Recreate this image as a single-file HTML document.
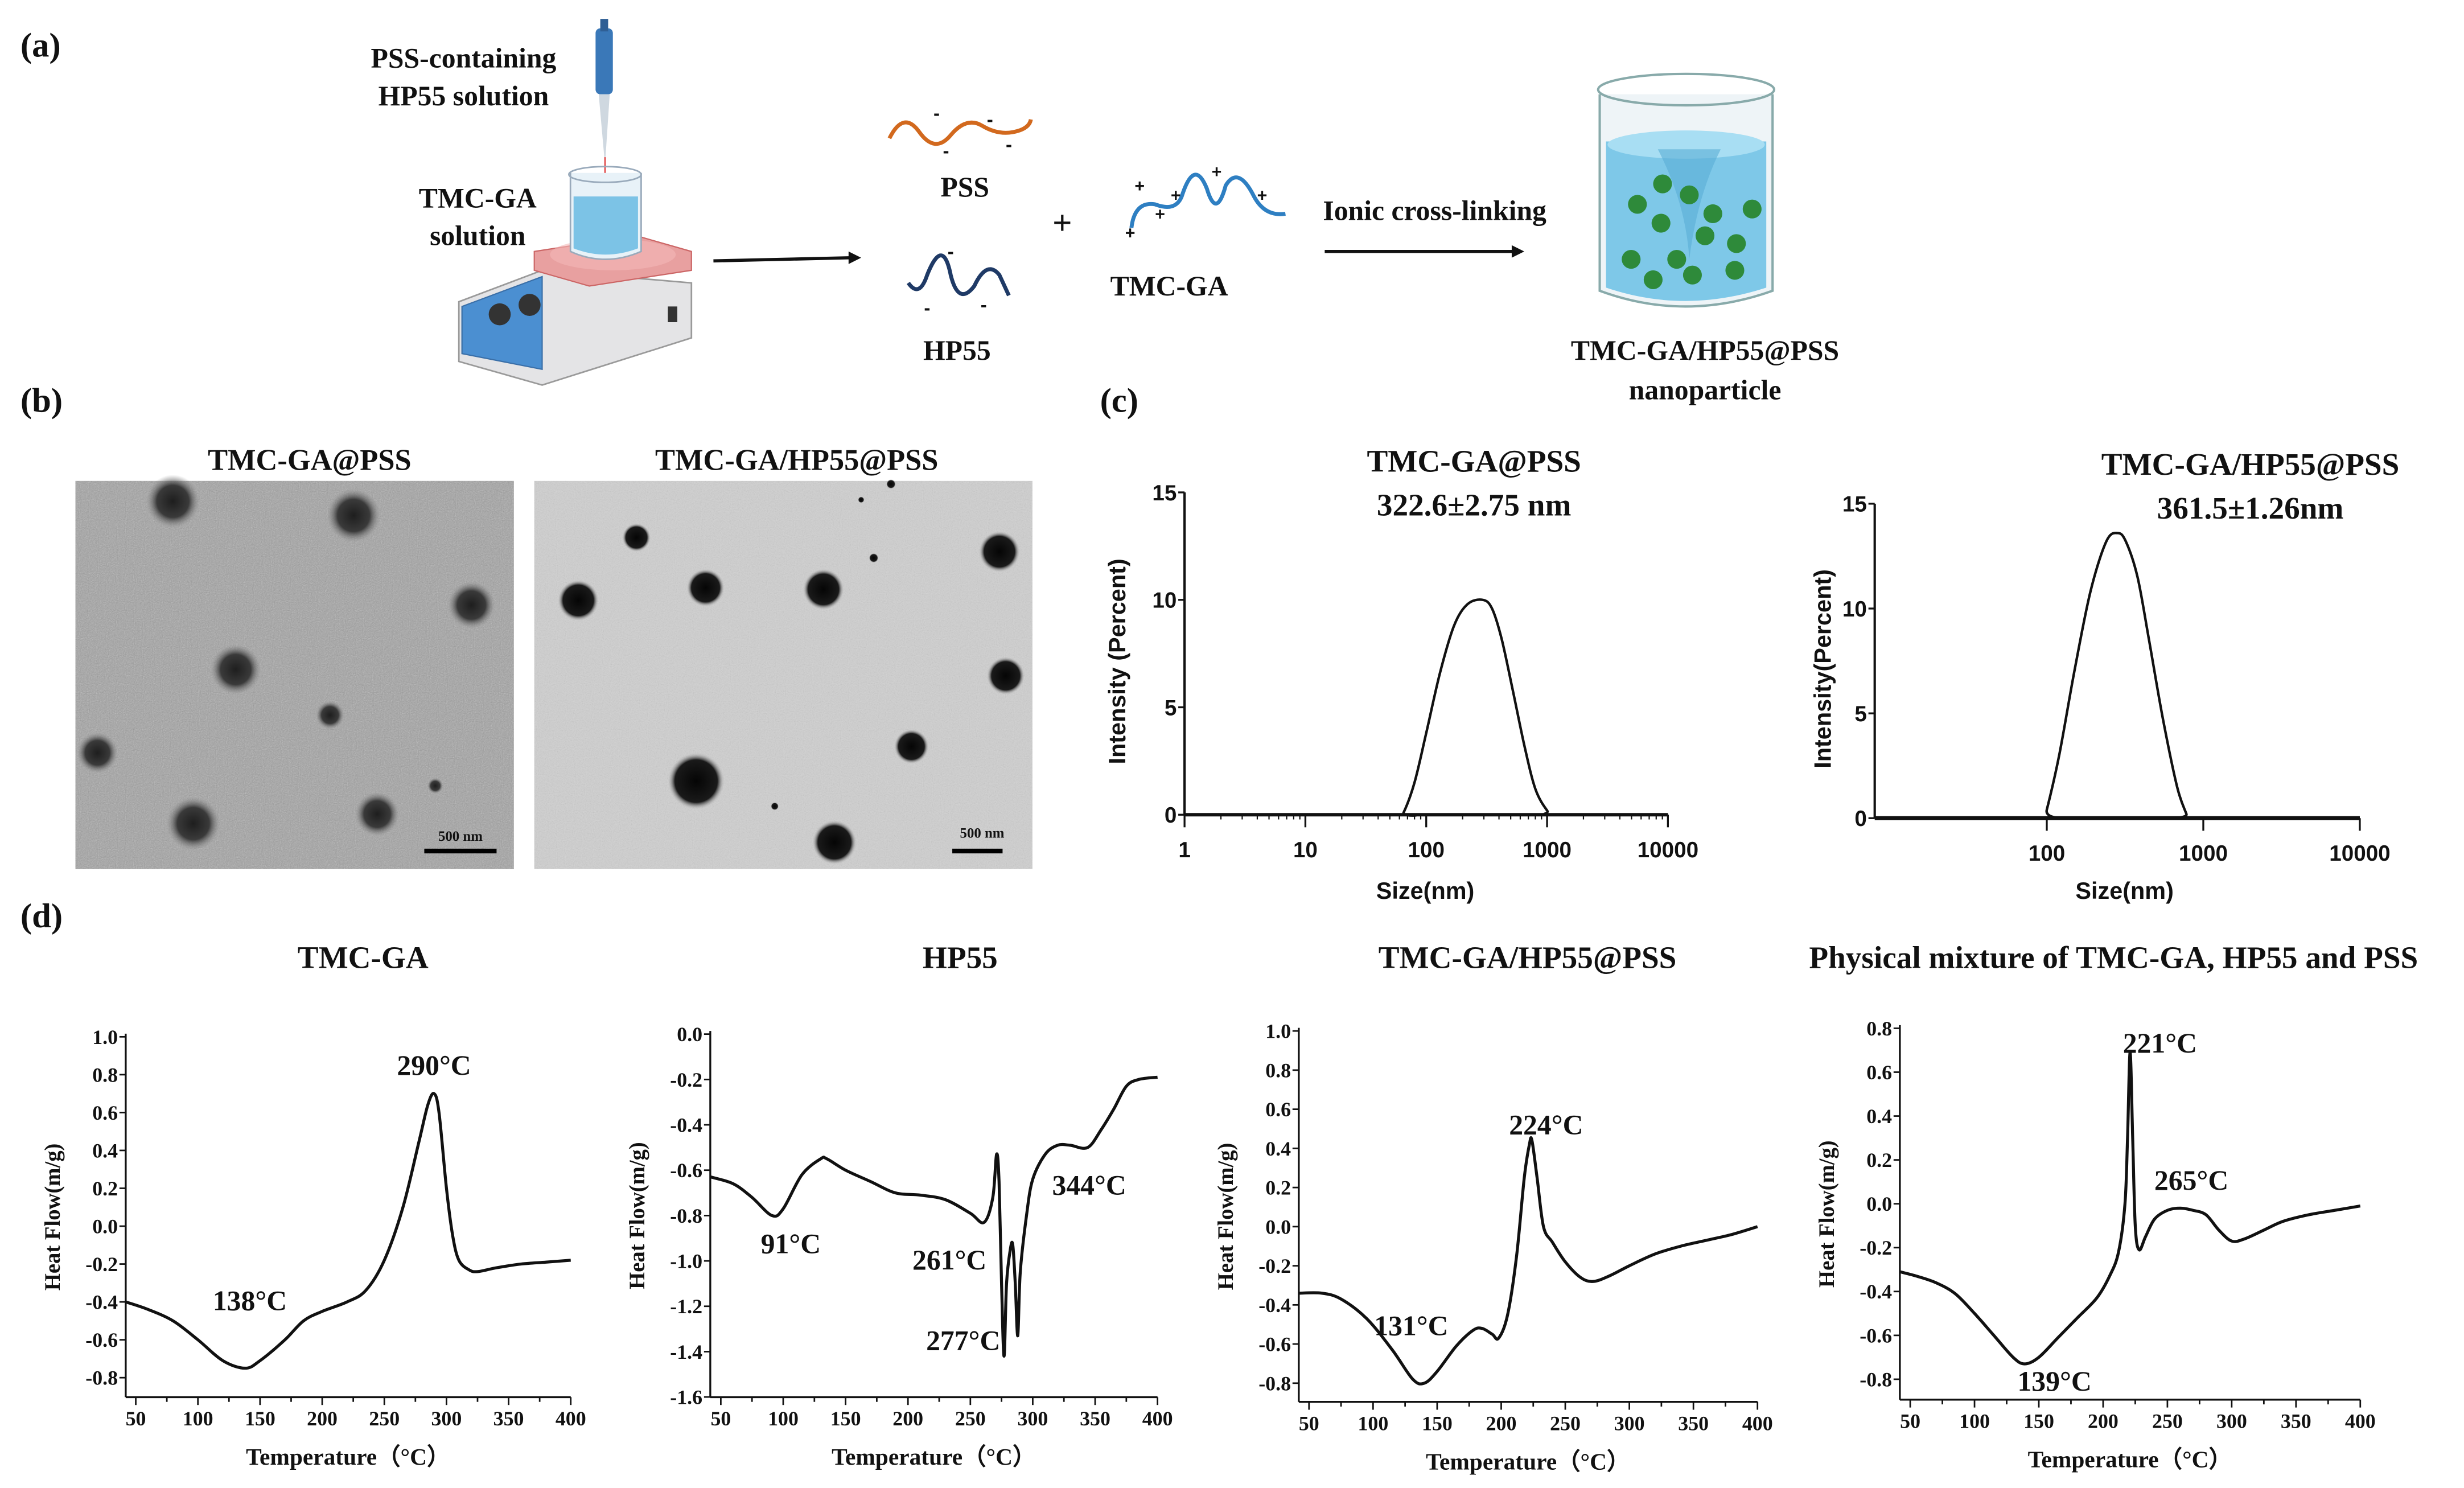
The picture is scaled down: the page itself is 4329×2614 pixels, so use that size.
<!DOCTYPE html>
<html><head><meta charset="utf-8"><title>Figure</title>
<style>
html,body{margin:0;padding:0;background:#fff;}
svg{display:block;}
.t{font-family:"Liberation Serif",serif;font-weight:bold;fill:#111;}
.s{font-family:"Liberation Sans",sans-serif;font-weight:bold;fill:#111;}
</style></head>
<body>
<svg id="fig" xmlns="http://www.w3.org/2000/svg" width="4329" height="2614" viewBox="0 0 1568 946.8">
<defs>
<filter id="grain" x="0" y="0" width="100%" height="100%">
<feTurbulence type="fractalNoise" baseFrequency="1.4" numOctaves="2" seed="3"/>
<feColorMatrix type="saturate" values="0"/>
<feComponentTransfer><feFuncA type="linear" slope="0.55"/></feComponentTransfer>
<feComposite in2="SourceGraphic" operator="in"/>
</filter>
<radialGradient id="blobL"><stop offset="0" stop-color="#1e1e1e"/><stop offset="0.6" stop-color="#3a3a3a"/><stop offset="1" stop-color="#8a8a8a" stop-opacity="0"/></radialGradient>
<radialGradient id="blobR"><stop offset="0" stop-color="#050505"/><stop offset="0.75" stop-color="#1a1a1a"/><stop offset="1" stop-color="#bbb" stop-opacity="0"/></radialGradient>
</defs>

<!-- Panel labels -->
<text class="t" x="13" y="36" font-size="22">(a)</text>
<text class="t" x="13" y="262" font-size="22">(b)</text>
<text class="t" x="700" y="262" font-size="22">(c)</text>
<text class="t" x="13" y="590" font-size="22">(d)</text>

<!-- Panel (a) schematic -->
<g>
  <text class="t" x="295" y="43" font-size="18" text-anchor="middle">PSS-containing</text>
  <text class="t" x="295" y="67" font-size="18" text-anchor="middle">HP55 solution</text>
  <text class="t" x="304" y="132" font-size="18" text-anchor="middle">TMC-GA</text>
  <text class="t" x="304" y="156" font-size="18" text-anchor="middle">solution</text>
  <g>
    <rect x="379" y="18" width="11" height="42" rx="3" fill="#3a78b8"/>
    <rect x="382" y="12" width="5" height="8" fill="#2f5f95"/>
    <polygon points="381,60 388,60 385,105" fill="#cfd8e0"/>
    <line x1="385" y1="100" x2="385" y2="115" stroke="#d33" stroke-width="0.8"/>
  </g>
  <g>
    <polygon points="292,192 345,172 440,180 440,215 345,245 292,230" fill="#e4e4e6" stroke="#9a9a9a" stroke-width="1"/>
    <polygon points="294,195 345,176 345,235 294,225" fill="#4b8fd1" stroke="#3a6fa8" stroke-width="0.8"/>
    <circle cx="318" cy="200" r="7" fill="#333"/>
    <circle cx="337" cy="194" r="7" fill="#333"/>
    <rect x="425" y="195" width="6" height="10" fill="#333"/>
    <polygon points="340,160 405,150 440,160 440,172 375,182 340,172" fill="#e8a0a0" stroke="#c66" stroke-width="0.8"/>
    <ellipse cx="390" cy="162" rx="40" ry="10" fill="#f3b8b8" opacity="0.6"/>
  </g>
  <g>
    <path d="M363,110 L363,160 Q385,170 408,160 L408,110" fill="#e8f2f8" stroke="#9ab" stroke-width="1"/>
    <path d="M365,125 L365,158 Q385,166 406,158 L406,125 Z" fill="#7cc3e6"/>
    <ellipse cx="385" cy="111" rx="23" ry="5" fill="none" stroke="#9ab"/>
  </g>
  <line x1="454" y1="166" x2="542" y2="164" stroke="#111" stroke-width="2"/>
  <polygon points="548,164 540,160 540,168" fill="#111"/>
  <g>
    <path d="M566,88 Q575,70 585,84 T605,86 T625,80 T645,84 T656,76" fill="none" stroke="#d2691e" stroke-width="2.5"/>
    <text x="594" y="76" font-size="12" fill="#d2691e" class="s">-</text>
    <text x="628" y="80" font-size="12" fill="#d2691e" class="s">-</text>
    <text x="600" y="100" font-size="12" fill="#d2691e" class="s">-</text>
    <text x="640" y="96" font-size="12" fill="#d2691e" class="s">-</text>
  </g>
  <text class="t" x="614" y="125" font-size="18" text-anchor="middle">PSS</text>
  <g>
    <path d="M578,180 Q585,190 590,175 Q600,150 605,175 Q610,195 620,182 Q628,165 636,175 L642,188" fill="none" stroke="#1f3a66" stroke-width="2.5"/>
    <text x="603" y="164" font-size="12" fill="#1f3a66" class="s">-</text>
    <text x="588" y="200" font-size="12" fill="#1f3a66" class="s">-</text>
    <text x="624" y="198" font-size="12" fill="#1f3a66" class="s">-</text>
  </g>
  <text class="t" x="609" y="229" font-size="18" text-anchor="middle">HP55</text>
  <text class="t" x="676" y="149" font-size="22" text-anchor="middle">+</text>
  <g>
    <path d="M720,145 Q722,128 735,130 Q748,135 752,125 Q760,100 768,120 Q774,140 780,118 Q788,105 798,125 Q805,138 818,136" fill="none" stroke="#2e7fc2" stroke-width="2.5"/>
    <text x="722" y="122" font-size="11" fill="#2e7fc2" class="s">+</text>
    <text x="745" y="128" font-size="11" fill="#2e7fc2" class="s">+</text>
    <text x="771" y="113" font-size="11" fill="#2e7fc2" class="s">+</text>
    <text x="800" y="128" font-size="11" fill="#2e7fc2" class="s">+</text>
    <text x="735" y="140" font-size="11" fill="#2e7fc2" class="s">+</text>
    <text x="716" y="152" font-size="11" fill="#2e7fc2" class="s">+</text>
  </g>
  <text class="t" x="744" y="188" font-size="18" text-anchor="middle">TMC-GA</text>
  <text class="t" x="913" y="140" font-size="18" text-anchor="middle">Ionic cross-linking</text>
  <line x1="843" y1="160" x2="963" y2="160" stroke="#111" stroke-width="2"/>
  <polygon points="970,160 962,156 962,164" fill="#111"/>
  <g>
    <path d="M1018,60 L1018,185 Q1072,205 1128,185 L1128,60" fill="#eef4f7" stroke="#8aa" stroke-width="1.5"/>
    <path d="M1022,90 L1022,183 Q1072,200 1124,183 L1124,90 Z" fill="#7ec8e8"/>
    <ellipse cx="1073" cy="92" rx="50" ry="9" fill="#a8def3"/>
    <path d="M1055,95 Q1073,130 1075,165 Q1080,125 1095,95" fill="#5aaed6" opacity="0.6"/>
    <ellipse cx="1073" cy="57" rx="56" ry="10" fill="none" stroke="#8aa" stroke-width="1.5"/>
    <g fill="#2e8a3a">
      <circle cx="1058" cy="117" r="6"/><circle cx="1075" cy="124" r="6"/><circle cx="1042" cy="130" r="6"/>
      <circle cx="1115" cy="133" r="6"/><circle cx="1057" cy="142" r="6"/><circle cx="1090" cy="136" r="6"/>
      <circle cx="1085" cy="150" r="6"/><circle cx="1105" cy="155" r="6"/><circle cx="1038" cy="165" r="6"/>
      <circle cx="1067" cy="165" r="6"/><circle cx="1104" cy="172" r="6"/><circle cx="1052" cy="178" r="6"/>
      <circle cx="1077" cy="175" r="6"/>
    </g>
  </g>
  <text class="t" x="1085" y="229" font-size="18" text-anchor="middle">TMC-GA/HP55@PSS</text>
  <text class="t" x="1085" y="254" font-size="18" text-anchor="middle">nanoparticle</text>
</g>

<!-- Panel (b) TEM -->
<text class="t" x="197" y="299" font-size="19" text-anchor="middle">TMC-GA@PSS</text>
<text class="t" x="507" y="299" font-size="19" text-anchor="middle">TMC-GA/HP55@PSS</text>
<g>
  <rect x="48" y="306" width="279" height="247" fill="#a2a2a2"/>
  <rect x="48" y="306" width="279" height="247" fill="#ffffff" filter="url(#grain)"/>
  <g fill="url(#blobL)">
    <circle cx="110" cy="319" r="17"/><circle cx="225" cy="328" r="17"/><circle cx="300" cy="385" r="15"/>
    <circle cx="150" cy="426" r="16"/><circle cx="210" cy="455" r="9"/><circle cx="62" cy="479" r="13"/>
    <circle cx="123" cy="524" r="17"/><circle cx="240" cy="518" r="14"/><circle cx="277" cy="500" r="5"/>
  </g>
  <rect x="270" y="540" width="46" height="3" fill="#000"/>
  <text class="t" x="293" y="535" font-size="9" text-anchor="middle">500 nm</text>
</g>
<g>
  <rect x="340" y="306" width="317" height="247" fill="#cfcfcf"/>
  <rect x="340" y="306" width="317" height="247" fill="#ffffff" filter="url(#grain)" opacity="0.5"/>
  <g fill="url(#blobR)">
    <circle cx="405" cy="342" r="9"/><circle cx="636" cy="351" r="13"/><circle cx="368" cy="382" r="13"/>
    <circle cx="449" cy="374" r="12"/><circle cx="524" cy="375" r="13"/><circle cx="640" cy="430" r="12"/>
    <circle cx="580" cy="475" r="11"/><circle cx="443" cy="497" r="18"/><circle cx="531" cy="536" r="14"/>
    <circle cx="556" cy="355" r="3"/><circle cx="567" cy="308" r="3"/><circle cx="548" cy="318" r="2"/><circle cx="493" cy="513" r="2.5"/>
  </g>
  <rect x="606" y="540" width="32" height="3" fill="#000"/>
  <text class="t" x="625" y="533" font-size="9" text-anchor="middle">500 nm</text>
</g>

<g id="charts"></g>
</svg>

<script>
// ---------- DLS data ----------
const dls1Sizes = [1, 60, 65, 80, 100, 130, 170, 220, 293, 350, 420, 520, 650, 800, 1000, 1150, 10000];
const dls1Intensity = [0, 0, 0.1, 1.5, 3.8, 6.6, 8.8, 9.8, 10, 9.6, 8.2, 5.8, 3.2, 1.2, 0.2, 0, 0];
const dls2Sizes = [8, 95, 100, 120, 150, 190, 240, 283, 320, 380, 450, 550, 680, 780, 800, 10000];
const dls2Intensity = [0, 0, 0.4, 3, 7, 10.8, 13.2, 13.6, 13.2, 11.5, 8.5, 4.8, 1.5, 0.2, 0, 0];
const dlsYTicks = [0, 5, 10, 15];
const dls1XTicks = [1, 10, 100, 1000, 10000];
const dls2XTicks = [100, 1000, 10000];

// ---------- DSC data ----------
const dsc1Temp = [42,60,80,100,120,138,150,170,185,200,220,235,250,265,278,285,290,294,300,305,310,318,325,340,360,380,400];
const dsc1Flow = [-0.40,-0.44,-0.50,-0.60,-0.71,-0.75,-0.71,-0.60,-0.50,-0.45,-0.40,-0.34,-0.18,0.10,0.45,0.64,0.70,0.60,0.20,-0.05,-0.18,-0.23,-0.24,-0.22,-0.20,-0.19,-0.18];
const dsc2Temp = [42,60,75,91,100,115,130,135,150,170,190,210,230,250,261,268,271,273,275,277,279,282,284,286,288,290,295,300,310,320,330,344,355,365,375,385,400];
const dsc2Flow = [-0.63,-0.66,-0.72,-0.80,-0.77,-0.62,-0.55,-0.55,-0.60,-0.65,-0.70,-0.71,-0.73,-0.79,-0.83,-0.72,-0.53,-0.65,-1.10,-1.42,-1.10,-0.95,-0.93,-1.10,-1.33,-1.05,-0.80,-0.64,-0.53,-0.49,-0.49,-0.50,-0.42,-0.33,-0.23,-0.20,-0.19];
const dsc3Temp = [42,60,75,95,115,131,140,150,165,178,185,193,198,205,212,218,222,224,228,233,240,250,262,272,285,300,320,340,360,380,400];
const dsc3Flow = [-0.34,-0.34,-0.37,-0.47,-0.63,-0.78,-0.80,-0.74,-0.61,-0.53,-0.52,-0.55,-0.57,-0.45,-0.15,0.25,0.42,0.44,0.25,0.0,-0.08,-0.18,-0.26,-0.28,-0.25,-0.20,-0.14,-0.10,-0.07,-0.04,0.0];
const dsc4Temp = [42,55,70,85,100,115,130,139,150,165,180,195,205,212,217,219,221,223,225,228,233,240,250,260,270,280,290,300,310,325,340,360,380,400];
const dsc4Flow = [-0.31,-0.33,-0.36,-0.41,-0.50,-0.60,-0.70,-0.73,-0.70,-0.61,-0.52,-0.43,-0.33,-0.22,0.0,0.30,0.69,0.30,-0.10,-0.21,-0.15,-0.07,-0.03,-0.02,-0.03,-0.05,-0.12,-0.17,-0.16,-0.12,-0.08,-0.05,-0.03,-0.01];
const dscXTicks = [50,100,150,200,250,300,350,400];
const dsc1YTicks = [1.0,0.8,0.6,0.4,0.2,0.0,-0.2,-0.4,-0.6,-0.8];
const dsc2YTicks = [0.0,-0.2,-0.4,-0.6,-0.8,-1.0,-1.2,-1.4,-1.6];
const dsc3YTicks = [1.0,0.8,0.6,0.4,0.2,0.0,-0.2,-0.4,-0.6,-0.8];
const dsc4YTicks = [0.8,0.6,0.4,0.2,0.0,-0.2,-0.4,-0.6,-0.8];

const NS = "http://www.w3.org/2000/svg";
const root = document.getElementById('charts');
function mk(tag, attrs, parent) {
  const e = document.createElementNS(NS, tag);
  for (const k in attrs) e.setAttribute(k, attrs[k]);
  (parent || root).appendChild(e);
  return e;
}
function txt(parent, x, y, s, size, cls, anchor, extra) {
  const e = mk('text', Object.assign({x: x, y: y, 'font-size': size, class: cls, 'text-anchor': anchor || 'middle'}, extra || {}), parent);
  e.textContent = s;
  return e;
}
function fmt(v) { return v.toFixed(1); }
function smoothPath(P) {
  let d = 'M' + P[0][0].toFixed(2) + ',' + P[0][1].toFixed(2);
  for (let i = 0; i < P.length - 1; i++) {
    const p0 = P[Math.max(0, i - 1)], p1 = P[i], p2 = P[i + 1], p3 = P[Math.min(P.length - 1, i + 2)];
    const k = 1 / 6;
    const c1 = [p1[0] + (p2[0] - p0[0]) * k, p1[1] + (p2[1] - p0[1]) * k];
    const c2 = [p2[0] - (p3[0] - p1[0]) * k, p2[1] - (p3[1] - p1[1]) * k];
    d += ' C' + c1[0].toFixed(2) + ',' + c1[1].toFixed(2) + ' ' + c2[0].toFixed(2) + ',' + c2[1].toFixed(2) + ' ' + p2[0].toFixed(2) + ',' + p2[1].toFixed(2);
  }
  return d;
}

// ---------- DSC chart ----------
function dsc(cfg, temps, flows, yTicks, name) {
  const g = mk('g', {});
  
  
  const xs = t => cfg.x50 + (t - 50) * (cfg.x400 - cfg.x50) / 350;
  const ys = v => cfg.yA + (v - cfg.vA) * (cfg.yB - cfg.yA) / (cfg.vB - cfg.vA);
  const ya = mk('line', {x1: cfg.ax, y1: ys(yTicks[0]) - 2, x2: cfg.ax, y2: cfg.bottom, stroke: '#111', 'stroke-width': 1.2}, g);
  
  
  const xa = mk('line', {x1: cfg.ax, y1: cfg.bottom, x2: xs(400), y2: cfg.bottom, stroke: '#111', 'stroke-width': 1.2}, g);
  
  
  for (let t = 50; t <= 400; t += 25) {
    mk('line', {x1: xs(t), y1: cfg.bottom, x2: xs(t), y2: cfg.bottom + (t % 50 === 0 ? 5 : 3), stroke: '#111', 'stroke-width': 1}, g);
  }
  dscXTicks.forEach(t => {
    const e = txt(g, xs(t), cfg.bottom + 18, String(t), 13, 't');
    
    
  });
  yTicks.forEach(v => {
    mk('line', {x1: cfg.ax - 4, y1: ys(v), x2: cfg.ax, y2: ys(v), stroke: '#111', 'stroke-width': 1}, g);
    const e = txt(g, cfg.ax - 5, ys(v) + 4.5, fmt(v), 13, 't', 'end');
    
    
  });
  const P = temps.map((t, i) => [xs(t), ys(flows[i])]);
  const line = mk('path', {d: smoothPath(P), fill: 'none', stroke: '#111', 'stroke-width': 1.9, 'stroke-linejoin': 'round'}, g);
  
  
  const tt = txt(g, cfg.titleX, 616, cfg.title, 20, 't');
  
  
  const xt = txt(g, (cfg.ax + xs(400)) / 2, cfg.bottom + 43, 'Temperature\uFF08\u00B0C\uFF09', 15, 't');
  
  
  const yc = (ys(yTicks[0]) + cfg.bottom) / 2;
  const yt = txt(g, cfg.ax - 42, yc, 'Heat Flow(m/g)', 14, 't', 'middle', {transform: 'rotate(-90 ' + (cfg.ax - 42) + ' ' + yc + ')'});
  
  
  cfg.anns.forEach(a => {
    const e = txt(g, xs(a[0]) + a[2], ys(a[1]) + a[3], a[0] + '\u00B0C', 18, 't');
    
    
  });
}

dsc({ax: 80, x50: 86.4, x400: 363.2, vA: 1.0, yA: 659.7, vB: -0.8, yB: 876.6, bottom: 889, titleX: 231, title: 'TMC-GA',
     anns: [[138, -0.75, 3, -37], [290, 0.70, 0, -12]]}, dsc1Temp, dsc1Flow, dsc1YTicks, 'dsc-chart-tmc-ga');
dsc({ax: 452, x50: 458.7, x400: 736.6, vA: 0.0, yA: 658, vB: -1.6, yB: 888.9, bottom: 889, titleX: 611, title: 'HP55',
     anns: [[91, -0.80, 12, 24], [261, -0.83, -22, 30], [277, -1.42, -26, -4], [344, -0.50, 1, 30]]}, dsc2Temp, dsc2Flow, dsc2YTicks, 'dsc-chart-hp55');
dsc({ax: 826.5, x50: 833, x400: 1118.4, vA: 1.0, yA: 656, vB: -0.8, yB: 880.1, bottom: 892, titleX: 972, title: 'TMC-GA/HP55@PSS',
     anns: [[131, -0.78, -1, -28], [224, 0.44, 9, -4]]}, dsc3Temp, dsc3Flow, dsc3YTicks, 'dsc-chart-nanoparticle');
dsc({ax: 1209, x50: 1215.6, x400: 1502, vA: 0.8, yA: 654.3, vB: -0.8, yB: 877.6, bottom: 890.6, titleX: 1345, title: 'Physical mixture of TMC-GA, HP55 and PSS',
     anns: [[221, 0.69, 19, 0], [265, 0.0, 3, -9], [139, -0.73, 19, 17]]}, dsc4Temp, dsc4Flow, dsc4YTicks, 'dsc-chart-physical-mixture');

// ---------- DLS chart ----------
function dls(cfg, sizes, vals, xTicks, name) {
  const g = mk('g', {});
  
  
  const xs = s => cfg.x100 + (Math.log10(s) - 2) * cfg.dec;
  const ys = v => cfg.y0 + v * (cfg.y15 - cfg.y0) / 15;
  const ya = mk('line', {x1: cfg.ax, y1: ys(15), x2: cfg.ax, y2: ys(0), stroke: '#111', 'stroke-width': 1.5}, g);
  
  
  const xa = mk('line', {x1: cfg.ax, y1: ys(0), x2: xs(10000), y2: ys(0), stroke: '#111', 'stroke-width': cfg.xw}, g);
  
  
  dlsYTicks.forEach(v => {
    mk('line', {x1: cfg.ax - 4, y1: ys(v), x2: cfg.ax, y2: ys(v), stroke: '#111', 'stroke-width': 1.2}, g);
    const e = txt(g, cfg.ax - 5, ys(v) + 5, String(v), 14, 's', 'end', {'font-weight': 'normal'});
    
    
  });
  xTicks.forEach(s => {
    mk('line', {x1: xs(s), y1: ys(0), x2: xs(s), y2: ys(0) + 8, stroke: '#111', 'stroke-width': 1.2}, g);
    const e = txt(g, xs(s), ys(0) + 27, String(s), 14, 's', 'middle', {'font-weight': 'normal'});
    
    
  });
  if (cfg.minor) {
    for (let d = 0; d < 4; d++) for (let m = 2; m < 10; m++) {
      const s = Math.pow(10, d) * m;
      mk('line', {x1: xs(s), y1: ys(0), x2: xs(s), y2: ys(0) + 3, stroke: '#111', 'stroke-width': 0.8}, g);
    }
  }
  const P = sizes.map((s, i) => [xs(s), ys(vals[i])]);
  const line = mk('path', {d: smoothPath(P), fill: 'none', stroke: '#111', 'stroke-width': 1.6, 'stroke-linejoin': 'round'}, g);
  
  
  const xt = txt(g, cfg.xtX, 572, 'Size(nm)', 15, 's');
  
  
  const yc = (ys(15) + ys(0)) / 2 + 5;
  const yt = txt(g, cfg.ylX, yc, cfg.ylabel, 15, 's', 'middle', {transform: 'rotate(-90 ' + cfg.ylX + ' ' + yc + ')'});
  
  
  const t1 = txt(g, cfg.tX, cfg.tY, cfg.title, 20, 't');
  
  
  const t2 = txt(g, cfg.tX, cfg.tY + 28, cfg.sub, 20, 't');
  
  
}
dls({ax: 753.8, x100: 907.6, dec: 76.9, y0: 518.4, y15: 313.3, xw: 2.2, minor: true, xtX: 907, ylX: 716, ylabel: 'Intensity (Percent)',
     tX: 938, tY: 300, title: 'TMC-GA@PSS', sub: '322.6\u00B12.75 nm'}, dls1Sizes, dls1Intensity, dls1XTicks, 'dls-chart-tmc-ga-pss');
dls({ax: 1193, x100: 1302.5, dec: 99.6, y0: 520.6, y15: 320.5, xw: 2.6, minor: false, xtX: 1352, ylX: 1165, ylabel: 'Intensity(Percent)',
     tX: 1432, tY: 302, title: 'TMC-GA/HP55@PSS', sub: '361.5\u00B11.26nm'}, dls2Sizes, dls2Intensity, dls2XTicks, 'dls-chart-nanoparticle');
</script>
</body></html>
